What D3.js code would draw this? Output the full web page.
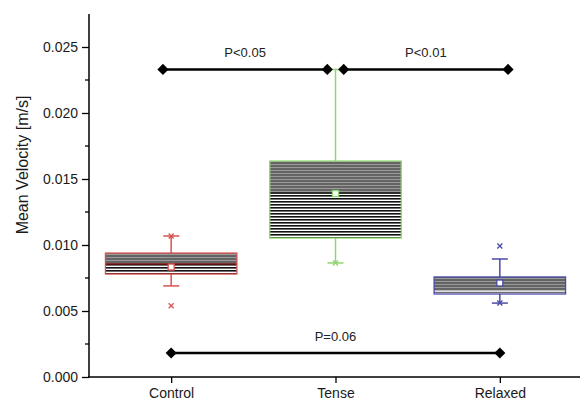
<!DOCTYPE html>
<html><head><meta charset="utf-8">
<script src="https://cdn.jsdelivr.net/npm/d3@7"></script>
<style>body{margin:0;background:#fff}svg{display:block}text{font-family:"Liberation Sans",Arial,sans-serif}</style>
</head><body><div id="chart"></div>
<script>
const categories = ["Control", "Tense", "Relaxed"];
const q1 = [0.0078, 0.01053, 0.00629];
const q3 = [0.00939, 0.01636, 0.00758];
const medians = [0.00856, 0.01394, 0.0065];
const means = [0.00833, 0.0139, 0.00712];
const whiskerLow = [0.0069, 0.00864, 0.0056];
const whiskerHigh = [0.01068, 0.0233, 0.00894];
const crosses = [[0.01068, 0.0054], [0.00864], [0.00992, 0.0056]];
const boxColors = ["#d9534f", "#8ed66e", "#4b4ba8"];
const medianColors = ["#7a1010", "#1a1a1a", "#dddddd"];
const yTicks = [0, 0.005, 0.01, 0.015, 0.02, 0.025];
const sigLines = [
  {x0: 0.95, x1: 1.95, y: 0.0233, label: "P<0.05"},
  {x0: 2.05, x1: 3.05, y: 0.0233, label: "P<0.01"},
  {x0: 1, x1: 3, y: 0.00182, label: "P=0.06"}
];

const W = 582, H = 401;
const svg = d3.select("#chart").append("svg").attr("width", W).attr("height", H);
const x = d3.scaleLinear().domain([0.5, 3.5]).range([89, 582]);
const y = d3.scaleLinear().domain([0, 0.0275]).range([377, 14]);

const defs = svg.append("defs");
const pg = defs.append("pattern").attr("id", "gray").attr("patternUnits", "userSpaceOnUse").attr("width", 10).attr("height", 3);
pg.append("rect").attr("width", 10).attr("height", 3).attr("fill", "#9a9a9a");
pg.append("rect").attr("width", 10).attr("height", 2).attr("fill", "#646464");
const pb = defs.append("pattern").attr("id", "bw").attr("patternUnits", "userSpaceOnUse").attr("width", 10).attr("height", 3);
pb.append("rect").attr("width", 10).attr("height", 3).attr("fill", "#ffffff");
pb.append("rect").attr("width", 10).attr("height", 1.6).attr("fill", "#111");

const hw = 0.4;
categories.forEach((c, i) => {
  const g = svg.append("g");
  const col = boxColors[i];
  const cx = x(i + 1);
  g.append("line").attr("x1", cx).attr("x2", cx).attr("y1", y(q3[i])).attr("y2", y(whiskerHigh[i])).attr("stroke", col).attr("stroke-width", 1.5);
  g.append("line").attr("x1", cx).attr("x2", cx).attr("y1", y(q1[i])).attr("y2", y(whiskerLow[i])).attr("stroke", col).attr("stroke-width", 1.5);
  [whiskerHigh[i], whiskerLow[i]].forEach(v => {
    g.append("line").attr("x1", cx - 8).attr("x2", cx + 8).attr("y1", y(v)).attr("y2", y(v)).attr("stroke", col).attr("stroke-width", 1.5);
  });
  const x0 = x(i + 1 - hw), x1 = x(i + 1 + hw);
  g.append("rect").attr("x", x0).attr("y", y(q3[i])).attr("width", x1 - x0).attr("height", y(medians[i]) - y(q3[i])).attr("fill", "url(#gray)");
  g.append("rect").attr("x", x0).attr("y", y(medians[i])).attr("width", x1 - x0).attr("height", y(q1[i]) - y(medians[i])).attr("fill", "url(#bw)");
  g.append("line").attr("x1", x0).attr("x2", x1).attr("y1", y(medians[i])).attr("y2", y(medians[i])).attr("stroke", medianColors[i]).attr("stroke-width", 1.5);
  g.append("rect").attr("x", x0).attr("y", y(q3[i])).attr("width", x1 - x0).attr("height", y(q1[i]) - y(q3[i])).attr("fill", "none").attr("stroke", col).attr("stroke-width", 1.3);
  g.append("rect").attr("x", cx - 3).attr("y", y(means[i]) - 3).attr("width", 6).attr("height", 6).attr("fill", "#fff").attr("stroke", col).attr("stroke-width", 1.3);
  crosses[i].forEach(v => {
    const yy = y(v);
    g.append("path").attr("d", `M${cx-2.5},${yy-2.5}L${cx+2.5},${yy+2.5}M${cx-2.5},${yy+2.5}L${cx+2.5},${yy-2.5}`).attr("stroke", col).attr("stroke-width", 1.3);
  });
});

const diamond = d3.symbol().type(d3.symbolSquare).size(62);
sigLines.forEach(s => {
  const g = svg.append("g");
  g.append("line").attr("x1", x(s.x0)).attr("x2", x(s.x1)).attr("y1", y(s.y)).attr("y2", y(s.y)).attr("stroke", "#000").attr("stroke-width", 2.5);
  [s.x0, s.x1].forEach(v => {
    g.append("path").attr("d", diamond).attr("transform", `translate(${x(v)},${y(s.y)}) rotate(45)`).attr("fill", "#000");
  });
  g.append("text").attr("x", x((s.x0 + s.x1) / 2)).attr("y", y(s.y) - 12).attr("text-anchor", "middle").attr("font-size", 13).attr("fill", "#222").text(s.label);
});

const yMinor = d3.range(0.0025, 0.0275, 0.005);
const yAxis = svg.append("g").attr("transform", "translate(89,0)");
yAxis.append("line").attr("x1", 0).attr("x2", 0).attr("y1", 14).attr("y2", 377).attr("stroke", "#000").attr("stroke-width", 1.5);
yAxis.call(d3.axisLeft(y).tickValues(yTicks).tickFormat(d3.format(".3f")).tickSize(7).tickPadding(4))
  .call(g => g.select(".domain").remove())
  .call(g => g.selectAll(".tick line").attr("stroke-width", 1.3))
  .call(g => g.selectAll(".tick text").attr("font-size", 14).attr("fill", "#1a1a1a").attr("font-family", "Liberation Sans, Arial, sans-serif"));
yAxis.selectAll(".minor").data(yMinor).join("line").attr("class", "minor")
  .attr("x1", -4).attr("x2", 0).attr("y1", d => y(d)).attr("y2", d => y(d)).attr("stroke", "#000").attr("stroke-width", 1.3);

const xAxis = svg.append("g").attr("transform", "translate(0,377)");
xAxis.call(d3.axisBottom(x).tickValues([1, 2, 3]).tickFormat(d => categories[d - 1]).tickSize(6).tickPadding(5))
  .call(g => g.select(".domain").remove())
  .call(g => g.selectAll(".tick line").attr("stroke-width", 1.3))
  .call(g => g.selectAll(".tick text").attr("font-size", 14).attr("fill", "#1a1a1a").attr("font-family", "Liberation Sans, Arial, sans-serif"));
xAxis.append("line").attr("x1", 88).attr("x2", 580).attr("y1", 0).attr("y2", 0).attr("stroke", "#000").attr("stroke-width", 1.5);

svg.append("text").attr("transform", "translate(28,165) rotate(-90)").attr("text-anchor", "middle")
  .attr("font-size", 16).attr("fill", "#1a1a1a").text("Mean Velocity [m/s]");
</script></body></html>
